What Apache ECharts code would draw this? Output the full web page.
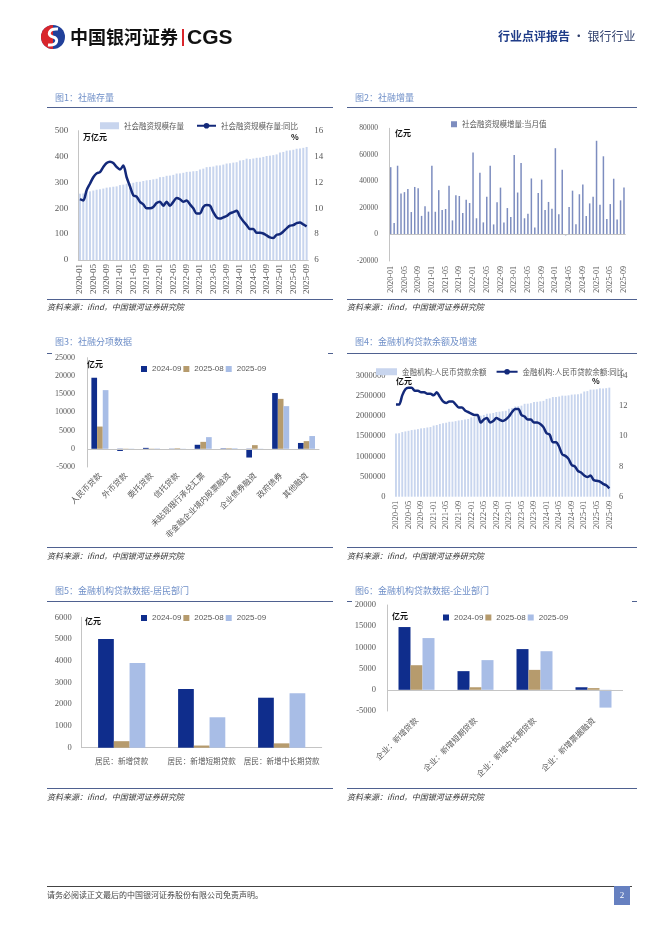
<!DOCTYPE html>
<html><head><meta charset="utf-8">
<script src="https://cdn.jsdelivr.net/npm/echarts@6/dist/echarts.min.js"></script>
<style>
body{margin:0;background:#fff;}
#page{position:relative;width:662px;height:936px;overflow:hidden;background:#fff;font-family:'Noto Sans CJK SC',sans-serif;}
.t{position:absolute;white-space:nowrap;z-index:2;line-height:1;}
.ln{position:absolute;height:1px;background:#4f6190;z-index:2;}
.ft{font-size:9px;color:#6f8fc8;}
.src{font-size:8px;color:#333;font-style:italic;}
.unit{font-size:8px;font-weight:bold;color:#111;}
#chart{position:absolute;left:0;top:0;width:662px;height:936px;z-index:1;}
</style></head>
<body>
<div id="page">
  <svg class="t" style="left:40px;top:24px" width="26" height="26" viewBox="0 0 26 26">
    <circle cx="13" cy="13" r="12" fill="#21409a"/>
    <path d="M13,1 A12,12 0 0,0 13,25 Z" fill="#d9262c"/>
    <path d="M18,5 C8,4 7,12 13,13 C19,14 18,22 8,21" stroke="#fff" stroke-width="3" fill="none"/>
  </svg>
  <div class="t" style="left:70px;top:27px;font-size:18px;font-weight:bold;color:#111;">中国银河证券</div>
  <div class="t" style="left:182px;top:29px;width:1.5px;height:17px;background:#d9262c;"></div>
  <div class="t" style="left:187px;top:26px;font-size:21px;font-weight:bold;color:#111;font-family:'Liberation Sans',sans-serif;">CGS</div>
  <div class="t" style="left:498px;top:30px;font-size:12px;color:#1f3c88;font-weight:bold;">行业点评报告<span style="font-weight:normal;color:#2d3d6b;"> · 银行行业</span></div>

  <div class="t ft" style="left:55px;top:93px;">图1：社融存量</div>
  <div class="ln" style="left:47px;top:107px;width:286px;"></div>
  <div class="ln" style="left:47px;top:299px;width:286px;"></div>
  <div class="t src" style="left:47px;top:303px;">资料来源：ifind，中国银河证券研究院</div>
  <div class="t unit" style="left:83px;top:133px;">万亿元</div>
  <div class="t unit" style="left:291px;top:133px;">%</div>

  <div class="t ft" style="left:355px;top:93px;">图2：社融增量</div>
  <div class="ln" style="left:347px;top:107px;width:290px;"></div>
  <div class="ln" style="left:347px;top:299px;width:290px;"></div>
  <div class="t src" style="left:347px;top:303px;">资料来源：ifind，中国银河证券研究院</div>
  <div class="t unit" style="left:395px;top:129px;">亿元</div>

  <div class="t ft" style="left:55px;top:337px;">图3：社融分项数据</div>
  <div class="ln" style="left:47px;top:353px;width:5px;"></div>
  <div class="ln" style="left:328px;top:353px;width:5px;"></div>
  <div class="ln" style="left:47px;top:547px;width:286px;"></div>
  <div class="t src" style="left:47px;top:552px;">资料来源：ifind，中国银河证券研究院</div>
  <div class="t unit" style="left:87px;top:360px;">亿元</div>

  <div class="t ft" style="left:355px;top:337px;">图4：金融机构贷款余额及增速</div>
  <div class="ln" style="left:347px;top:353px;width:290px;"></div>
  <div class="ln" style="left:347px;top:547px;width:290px;"></div>
  <div class="t src" style="left:347px;top:552px;">资料来源：ifind，中国银河证券研究院</div>
  <div class="t unit" style="left:396px;top:377px;">亿元</div>
  <div class="t unit" style="left:592px;top:377px;">%</div>

  <div class="t ft" style="left:55px;top:586px;">图5：金融机构贷款数据-居民部门</div>
  <div class="ln" style="left:47px;top:601px;width:286px;"></div>
  <div class="ln" style="left:47px;top:788px;width:286px;"></div>
  <div class="t src" style="left:47px;top:793px;">资料来源：ifind，中国银河证券研究院</div>
  <div class="t unit" style="left:85px;top:617px;">亿元</div>

  <div class="t ft" style="left:355px;top:586px;">图6：金融机构贷款数据-企业部门</div>
  <div class="ln" style="left:347px;top:601px;width:5px;"></div>
  <div class="ln" style="left:632px;top:601px;width:5px;"></div>
  <div class="ln" style="left:347px;top:788px;width:290px;"></div>
  <div class="t src" style="left:347px;top:793px;">资料来源：ifind，中国银河证券研究院</div>
  <div class="t unit" style="left:392px;top:612px;">亿元</div>

  <div class="t" style="left:47px;top:886px;width:585px;height:1px;background:#444;"></div>
  <div class="t" style="left:47px;top:891px;font-size:8px;color:#444;">请务必阅读正文最后的中国银河证券股份有限公司免责声明。</div>
  <div class="t" style="left:614px;top:886px;width:16px;height:19px;background:#6680c0;color:#fff;font-size:9px;line-height:19px;text-align:center;font-family:'Liberation Serif',serif;">2</div>

  <div id="chart"></div>
</div>
<script>
const months = ['2020-01','2020-02','2020-03','2020-04','2020-05','2020-06','2020-07','2020-08','2020-09','2020-10','2020-11','2020-12',
'2021-01','2021-02','2021-03','2021-04','2021-05','2021-06','2021-07','2021-08','2021-09','2021-10','2021-11','2021-12',
'2022-01','2022-02','2022-03','2022-04','2022-05','2022-06','2022-07','2022-08','2022-09','2022-10','2022-11','2022-12',
'2023-01','2023-02','2023-03','2023-04','2023-05','2023-06','2023-07','2023-08','2023-09','2023-10','2023-11','2023-12',
'2024-01','2024-02','2024-03','2024-04','2024-05','2024-06','2024-07','2024-08','2024-09','2024-10','2024-11','2024-12',
'2025-01','2025-02','2025-03','2025-04','2025-05','2025-06','2025-07','2025-08','2025-09'];

// 图1 社会融资规模存量（万亿元）及同比（%）
const tsfStock = [256.4,257.2,262.4,265.5,268.6,271.8,273.5,276.2,279.8,281.2,283.3,284.8,
289.7,291.4,294.9,296.7,298.6,302.0,302.5,305.6,308.1,309.5,311.9,314.1,
320.3,321.3,325.6,326.5,329.2,334.3,334.9,337.2,340.7,341.4,343.2,344.2,
350.0,353.2,359.0,360.1,361.4,365.5,365.8,368.9,373.0,374.2,376.6,378.1,
384.8,386.4,391.9,390.2,392.4,395.1,395.7,398.6,402.2,403.5,405.6,408.3,
415.6,417.9,422.9,424.0,426.2,430.2,431.3,433.7,437.1];
const tsfYoY = [10.7,10.6,11.4,11.9,12.4,12.7,12.8,13.2,13.5,13.6,13.5,13.2,
13.0,13.3,12.4,11.7,11.0,10.9,10.5,10.3,10.0,10.0,10.1,10.4,
10.5,10.2,10.5,10.2,10.5,10.8,10.7,10.5,10.6,10.3,10.0,9.6,
9.6,10.1,10.25,10.2,9.7,9.3,9.2,9.3,9.4,9.6,9.7,9.8,
9.35,9.0,8.7,8.4,8.4,8.1,8.1,8.05,7.9,7.75,7.7,7.95,
8.0,8.2,8.45,8.65,8.7,8.85,8.9,8.75,8.6];

// 图2 社会融资规模增量:当月值（亿元）
const tsfFlow = [50700,8550,51800,30900,31900,34300,16900,35800,34800,14000,21300,17200,
51700,17100,33400,18500,19200,36700,10600,29600,29000,16200,26100,23700,
61700,12200,46500,9100,28400,51700,7560,24300,35300,9080,19900,13100,
59800,31600,53800,12200,15600,42200,5280,31200,41300,18500,24500,19300,
65000,15200,48700,-700,20600,33000,7700,30300,37600,14000,23400,28500,
70600,22300,58900,11600,22900,42000,11300,25700,35300];

// 图3 社融分项数据（亿元）
const cats3 = ['人民币贷款','外币贷款','委托贷款','信托贷款','未贴现银行承兑汇票','非金融企业境内股票融资','企业债券融资','政府债券','其他融资'];
const s3_2409 = [19500,-600,250,50,1100,100,-2400,15300,1600];
const s3_2508 = [6100,-300,-150,150,1900,150,1000,13700,2100];
const s3_2509 = [16100,-250,100,50,3200,150,-50,11700,3500];

// 图4 金融机构:人民币贷款余额（亿元）及同比（%）
const loanBal = [1564000,1573000,1602000,1619000,1634000,1652000,1662000,1675000,1694000,1701000,1716000,1727000,
1763000,1777000,1804000,1819000,1834000,1857000,1860000,1873000,1890000,1899000,1912000,1927000,
1967000,1979000,2010000,2008000,2027000,2055000,2062000,2075000,2100000,2107000,2119000,2130000,
2179000,2197000,2236000,2244000,2258000,2303000,2306000,2319000,2346000,2353000,2364000,2376000,
2425000,2439000,2471000,2474000,2484000,2506000,2504000,2513000,2531000,2536000,2542000,2557000,
2608000,2618000,2654000,2657000,2663000,2686000,2685000,2691000,2704000];
const loanYoY = [12.1,12.1,12.7,13.1,13.2,13.2,13.0,13.0,12.9,12.9,12.8,12.8,
12.7,12.9,12.6,12.3,12.2,12.3,12.3,12.1,11.9,11.9,11.7,11.6,
11.5,11.4,11.4,10.9,11.1,11.2,10.9,11.0,11.2,11.1,11.0,11.1,
11.3,11.6,11.8,11.8,11.4,11.3,11.1,11.1,10.9,10.9,10.8,10.6,
10.2,10.1,9.6,9.6,9.3,8.8,8.7,8.5,8.1,8.0,7.7,7.6,
7.4,7.3,7.4,7.1,7.05,7.0,6.85,6.75,6.55];

// 图5 居民部门（亿元）
const cats5 = ['居民：新增贷款','居民：新增短期贷款','居民：新增中长期贷款'];
const s5_2409 = [5000,2700,2300];
const s5_2508 = [300,100,200];
const s5_2509 = [3900,1400,2500];

// 图6 企业部门（亿元）
const cats6 = ['企业：新增贷款','企业：新增短期贷款','企业：新增中长期贷款','企业：新增票据融资'];
const s6_2409 = [14800,4400,9600,600];
const s6_2508 = [5800,600,4700,400];
const s6_2509 = [12200,7000,9100,-4200];

const periods = ['2024-09','2025-08','2025-09'];

const C_NAVY = '#0f2d8c', C_TAN = '#b69b6d', C_LB = '#a8bde6';
const C_STOCK = '#c8d5ee', C_LINE = '#13297a', C_FLOW = '#7d8dbf';
const AX = '#595959', AXL = '#c4c4c4';
const SERIF = "'Liberation Serif','Noto Sans CJK SC',serif";
const CJK = "'Noto Sans CJK SC',sans-serif";
const LEG = "'Liberation Sans','Noto Sans CJK SC',sans-serif";
const plain = v => String(v);

function yAx(grid, min, max, interval, fs, margin, opts) {
  return Object.assign({
    type: 'value', gridIndex: grid, min: min, max: max, interval: interval,
    axisLine: { show: true, lineStyle: { color: AXL, width: 1 } },
    axisTick: { show: false }, splitLine: { show: false },
    axisLabel: { color: AX, fontSize: fs, fontFamily: SERIF, margin: margin, formatter: plain }
  }, opts || {});
}
function xMonth(grid, fs, margin, showLine) {
  return {
    type: 'category', gridIndex: grid, data: months, boundaryGap: true,
    axisLine: { show: showLine, onZero: false, lineStyle: { color: AXL } },
    axisTick: { show: false },
    axisLabel: { rotate: 90, interval: 3, color: AX, fontSize: fs, fontFamily: SERIF, margin: margin }
  };
}
function xCat(grid, data, rot, fs, margin, showLine) {
  return {
    type: 'category', gridIndex: grid, data: data,
    axisLine: { show: showLine, onZero: false, lineStyle: { color: AXL } },
    axisTick: { show: false },
    axisLabel: { rotate: rot, interval: 0, color: AX, fontSize: fs, fontFamily: CJK, margin: margin }
  };
}
const zeroLine = { silent: true, symbol: 'none', label: { show: false },
  lineStyle: { color: AXL, type: 'solid', width: 1 }, data: [{ yAxis: 0 }] };

function triple(xi, yi, a, b, c, gap, withZero) {
  const mk = (name, data, color, z) => {
    const s = { type: 'bar', name: name, xAxisIndex: xi, yAxisIndex: yi, data: data,
      itemStyle: { color: color }, barGap: '0%', barCategoryGap: gap };
    if (z) s.markLine = zeroLine;
    return s;
  };
  return [mk(periods[0], a, C_NAVY, withZero), mk(periods[1], b, C_TAN, false), mk(periods[2], c, C_LB, false)];
}

const legText = { color: AX, fontSize: 7.5, fontFamily: CJK };
const legNum = { color: AX, fontSize: 8, fontFamily: LEG };

const option = {
  animation: false,
  grid: [
    { left: 78.3, top: 130.7, width: 230, height: 129.3 },
    { left: 389, top: 128.3, width: 236.7, height: 132.7 },
    { left: 87, top: 357.7, width: 232.4, height: 109.3 },
    { left: 394.4, top: 375.7, width: 216.5, height: 121 },
    { left: 81.7, top: 617.3, width: 240, height: 130.4 },
    { left: 387, top: 605, width: 236, height: 106 }
  ],
  legend: [
    { left: 95, top: 117, itemWidth: 19, itemHeight: 7, itemGap: 12, textStyle: legText,
      data: [{ name: '社会融资规模存量', icon: 'rect' }, { name: '社会融资规模存量:同比' }] },
    { left: 446, top: 115.5, itemWidth: 6, itemHeight: 6, textStyle: legText,
      data: [{ name: '社会融资规模增量:当月值', icon: 'rect' }] },
    { left: 136, top: 360, itemWidth: 6, itemHeight: 6, itemGap: 2, textStyle: legNum,
      data: periods.map(n => ({ name: n, icon: 'rect' })) },
    { left: 371, top: 363, itemWidth: 21, itemHeight: 7, itemGap: 9, textStyle: legText,
      data: [{ name: '金融机构:人民币贷款余额', icon: 'rect' }, { name: '金融机构:人民币贷款余额:同比' }] },
    { left: 136, top: 609, itemWidth: 6, itemHeight: 6, itemGap: 2, textStyle: legNum,
      data: periods.map(n => ({ name: n, icon: 'rect' })) },
    { left: 438, top: 608.5, itemWidth: 6, itemHeight: 6, itemGap: 2, textStyle: legNum,
      data: periods.map(n => ({ name: n, icon: 'rect' })) }
  ],
  xAxis: [
    xMonth(0, 9, 4, true),
    xMonth(1, 8, 5, false),
    xCat(2, cats3, 45, 8, 7, false),
    xMonth(3, 8.5, 4, false),
    xCat(4, cats5, 0, 7.6, 10, true),
    xCat(5, cats6, 45, 8, 8, false)
  ],
  yAxis: [
    yAx(0, 0, 500, 100, 9, 10),
    yAx(0, 6, 16, 2, 9, 6, { position: 'right', axisLine: { show: false } }),
    yAx(1, -20000, 80000, 20000, 7.5, 11),
    yAx(2, -5000, 25000, 5000, 8, 12),
    yAx(3, 0, 3000000, 500000, 8.5, 9, { axisLine: { show: false } }),
    yAx(3, 6, 14, 2, 8.5, 8, { position: 'right', axisLine: { show: false } }),
    yAx(4, 0, 6000, 1000, 8.5, 10),
    yAx(5, -5000, 20000, 5000, 8.5, 11)
  ],
  series: [
    { type: 'bar', name: '社会融资规模存量', xAxisIndex: 0, yAxisIndex: 0, data: tsfStock,
      itemStyle: { color: C_STOCK }, barCategoryGap: '40%' },
    { type: 'line', name: '社会融资规模存量:同比', xAxisIndex: 0, yAxisIndex: 1, data: tsfYoY,
      symbol: 'none', smooth: 0.3, lineStyle: { color: C_LINE, width: 2.5 }, itemStyle: { color: C_LINE } },
    { type: 'bar', name: '社会融资规模增量:当月值', xAxisIndex: 1, yAxisIndex: 2, data: tsfFlow,
      itemStyle: { color: C_FLOW }, barWidth: 1.5, markLine: zeroLine },
    ...triple(2, 3, s3_2409, s3_2508, s3_2509, '34%', true),
    { type: 'bar', name: '金融机构:人民币贷款余额', xAxisIndex: 3, yAxisIndex: 4, data: loanBal,
      itemStyle: { color: C_STOCK }, barCategoryGap: '40%' },
    { type: 'line', name: '金融机构:人民币贷款余额:同比', xAxisIndex: 3, yAxisIndex: 5, data: loanYoY,
      symbol: 'none', smooth: 0.3, lineStyle: { color: C_LINE, width: 2.5 }, itemStyle: { color: C_LINE } },
    ...triple(4, 6, s5_2409, s5_2508, s5_2509, '41%', false),
    ...triple(5, 7, s6_2409, s6_2508, s6_2509, '39%', true)
  ]
};
const chart = echarts.init(document.getElementById('chart'), null, { renderer: 'canvas' });
chart.setOption(option);
</script>
</body></html>
